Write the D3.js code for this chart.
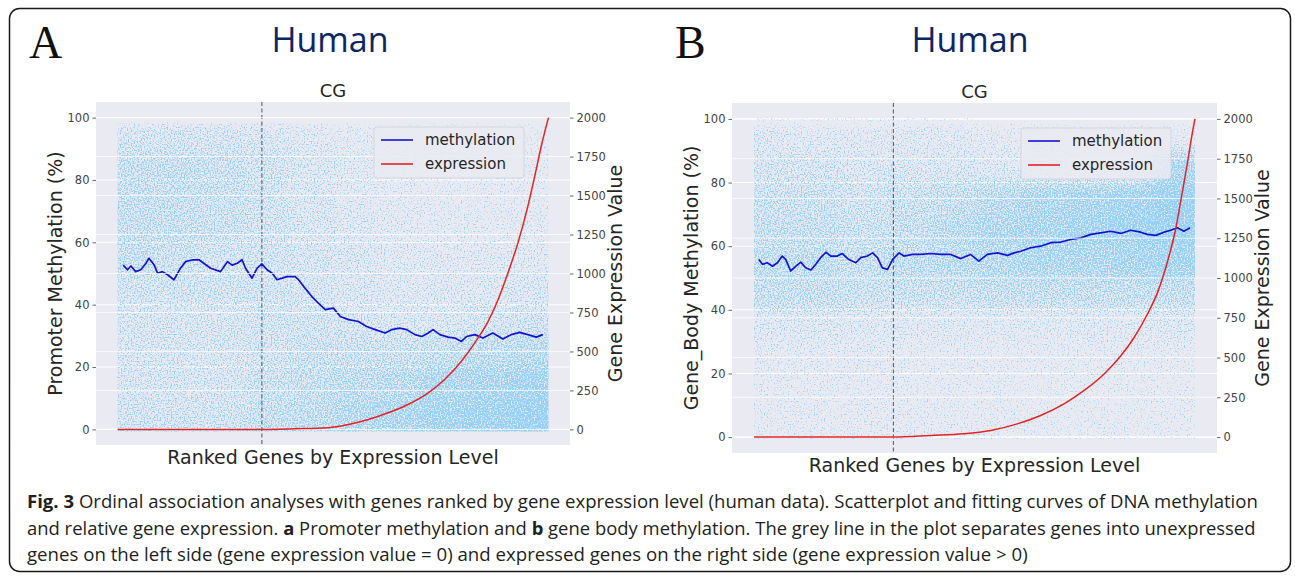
<!DOCTYPE html>
<html>
<head>
<meta charset="utf-8">
<script src="https://cdnjs.cloudflare.com/ajax/libs/d3/7.8.5/d3.min.js"></script>
<style>
  html, body { margin: 0; padding: 0; background: #fff; }
  svg { display: block; }
</style>
</head>
<body>
<svg id="fig" width="1295" height="576"></svg>
<script>
'use strict'

// ranks are given in percent of the ranked gene list (0 = lowest expression)
const methTicks = [0, 20, 40, 60, 80, 100]
const exprTicks = [0, 250, 500, 750, 1000, 1250, 1500, 1750, 2000]

// panel A : promoter methylation
const methRankA = [1.3, 2.3, 3.1, 4.2, 5.4, 6.6, 7.3, 8.5, 9.3, 10.4, 11.6, 13.1, 14.6, 15.8, 17.4, 18.9, 20.0, 21.6, 23.9, 25.5, 26.6, 27.8, 28.9, 29.7, 31.2, 32.4, 33.5, 34.7, 35.9, 37.0, 38.2, 39.3, 41.2, 42.0, 43.2, 45.1, 46.6, 48.2, 50.1, 51.7, 53.6, 55.9, 57.8, 59.8, 62.1, 63.6, 65.5, 67.1, 69.0, 70.6, 72.1, 73.2, 74.8, 76.7, 78.3, 79.8, 81.0, 82.9, 84.8, 87.1, 89.4, 91.4, 93.3, 95.2, 97.2, 98.7]
const methValA = [52.7, 51.2, 52.4, 50.6, 51.2, 53.3, 54.9, 52.7, 50.1, 50.6, 49.6, 48.0, 51.7, 53.8, 54.4, 54.4, 53.3, 51.7, 50.6, 53.8, 52.7, 53.3, 54.4, 51.7, 48.5, 51.7, 53.1, 51.2, 50.1, 48.0, 48.5, 49.0, 49.0, 48.0, 45.8, 42.6, 40.5, 38.4, 38.9, 36.2, 35.2, 34.6, 33.0, 32.0, 30.9, 32.0, 32.5, 32.0, 30.4, 29.8, 30.9, 32.0, 30.4, 29.6, 29.3, 28.2, 29.8, 30.4, 29.3, 30.9, 29.0, 30.4, 31.1, 30.4, 29.6, 30.4]
const exprRankA = [0, 33.5, 41.2, 49.0, 53.6, 58.2, 62.8, 67.4, 72.1, 75.9, 79.8, 82.9, 86.0, 88.3, 90.6, 92.9, 95.2, 96.8, 98.3, 100]
const exprValA = [0, 0, 4, 11, 32, 64, 107, 160, 235, 320, 437, 555, 693, 832, 1003, 1195, 1429, 1621, 1813, 2000]
const separatorA = 33.5

// panel B : gene body methylation
const methRankB = [1.1, 1.9, 3.0, 4.2, 5.3, 6.4, 7.2, 8.3, 9.5, 10.6, 11.7, 12.9, 14.0, 15.1, 16.3, 17.4, 18.9, 20.0, 21.5, 23.1, 24.2, 25.7, 26.9, 28.0, 29.1, 30.3, 31.4, 32.9, 34.0, 35.9, 37.8, 40.1, 42.3, 44.6, 46.9, 49.1, 51.0, 52.9, 55.2, 57.5, 59.0, 60.5, 62.7, 65.0, 67.3, 69.6, 71.8, 74.1, 76.4, 78.6, 80.9, 83.2, 85.4, 87.7, 89.2, 91.1, 93.0, 94.5, 96.0, 97.5, 98.9]
const methValB = [55.8, 54.3, 54.8, 53.7, 54.8, 56.9, 55.8, 52.2, 53.7, 55.0, 53.2, 52.5, 54.3, 56.4, 58.1, 56.9, 56.9, 57.7, 55.8, 54.8, 56.4, 56.9, 57.9, 56.4, 53.2, 52.7, 55.8, 57.9, 56.9, 57.4, 57.4, 57.7, 57.4, 57.4, 56.1, 57.4, 55.3, 57.4, 57.9, 57.1, 57.9, 58.4, 59.5, 60.0, 61.1, 61.3, 62.1, 62.6, 63.7, 64.2, 64.7, 64.0, 65.0, 64.4, 63.7, 63.4, 64.4, 65.0, 65.8, 64.7, 65.8]
const exprRankB = [0, 31.6, 40.1, 47.6, 53.7, 59.7, 65.0, 70.3, 74.8, 79.4, 83.2, 86.2, 89.2, 91.5, 93.7, 95.6, 97.1, 98.3, 99.4, 100]
const exprValB = [0, 0, 10, 21, 42, 83, 136, 209, 292, 397, 511, 626, 772, 908, 1096, 1305, 1535, 1723, 1911, 2000]
const separatorB = 31.6

// scatter density: rows are methylation bands 0-10 ... 90-100,
// columns are rank deciles 0-10 ... 90-100 (relative density, 1 = densest)
const cloudA = [
  [0.50, 0.50, 0.50, 0.60, 0.65, 0.75, 0.80, 0.90, 0.95, 1.00],
  [0.45, 0.45, 0.45, 0.55, 0.60, 0.65, 0.70, 0.80, 0.85, 0.90],
  [0.45, 0.45, 0.45, 0.50, 0.55, 0.55, 0.55, 0.60, 0.65, 0.70],
  [0.45, 0.45, 0.45, 0.50, 0.50, 0.45, 0.40, 0.40, 0.45, 0.50],
  [0.50, 0.50, 0.50, 0.50, 0.45, 0.40, 0.35, 0.35, 0.35, 0.40],
  [0.60, 0.55, 0.50, 0.50, 0.45, 0.40, 0.30, 0.30, 0.30, 0.30],
  [0.60, 0.60, 0.55, 0.50, 0.40, 0.35, 0.30, 0.25, 0.25, 0.25],
  [0.60, 0.60, 0.55, 0.50, 0.40, 0.30, 0.25, 0.20, 0.20, 0.20],
  [0.60, 0.60, 0.55, 0.50, 0.40, 0.30, 0.25, 0.20, 0.20, 0.18],
  [0.45, 0.45, 0.45, 0.40, 0.30, 0.25, 0.20, 0.15, 0.15, 0.12]
]
const cloudB = [
  [0.20, 0.20, 0.20, 0.20, 0.20, 0.20, 0.15, 0.15, 0.15, 0.15],
  [0.20, 0.20, 0.20, 0.20, 0.20, 0.20, 0.15, 0.15, 0.15, 0.15],
  [0.25, 0.25, 0.25, 0.20, 0.20, 0.20, 0.20, 0.20, 0.20, 0.20],
  [0.35, 0.35, 0.35, 0.30, 0.30, 0.30, 0.30, 0.30, 0.30, 0.35],
  [0.60, 0.60, 0.55, 0.55, 0.55, 0.60, 0.60, 0.60, 0.60, 0.60],
  [0.65, 0.65, 0.60, 0.65, 0.70, 0.75, 0.80, 0.80, 0.85, 0.90],
  [0.60, 0.60, 0.55, 0.60, 0.70, 0.80, 0.85, 0.90, 0.95, 1.00],
  [0.55, 0.55, 0.50, 0.55, 0.60, 0.70, 0.80, 0.85, 0.90, 1.00],
  [0.45, 0.45, 0.40, 0.40, 0.40, 0.35, 0.30, 0.30, 0.30, 0.80],
  [0.35, 0.30, 0.30, 0.30, 0.30, 0.25, 0.20, 0.20, 0.20, 0.20]
]
// genes sitting exactly at 100 % (a thin row on the top gridline of B)
const ceilingB = [0.6, 0.6, 0.6, 0.6, 0.45, 0, 0, 0, 0, 0]

const captionLines = [
  [['Fig. 3', true], [' Ordinal association analyses with genes ranked by gene expression level (human data). Scatterplot and fitting curves of DNA methylation', false]],
  [['and relative gene expression. ', false], ['a', true], [' Promoter methylation and ', false], ['b', true], [' gene body methylation. The grey line in the plot separates genes into unexpressed', false]],
  [['genes on the left side (gene expression value = 0) and expressed genes on the right side (gene expression value > 0)', false]]
]

const MPL_FONT = '"DejaVu Sans", sans-serif'
const svg = d3.select('#fig')
const defs = svg.append('defs')

/**
 * Builds a filter turning a smooth density field into light blue speckles.
 */
function makeSpeckle (id, blur, seed) {
  const f = defs.append('filter').attr('id', id)
    .attr('x', '-2%').attr('y', '-2%').attr('width', '104%').attr('height', '104%')
    .attr('color-interpolation-filters', 'sRGB')
  f.append('feGaussianBlur').attr('in', 'SourceGraphic').attr('stdDeviation', blur).attr('result', 'soft')
  f.append('feTurbulence').attr('type', 'fractalNoise').attr('baseFrequency', 0.7)
    .attr('numOctaves', 1).attr('seed', seed).attr('result', 'noise')
  f.append('feColorMatrix').attr('in', 'noise').attr('type', 'matrix')
    .attr('values', '0 0 0 0 0  0 0 0 0 0  0 0 0 0 0  1 0 0 0 0').attr('result', 'grain')
  f.append('feComposite').attr('in', 'soft').attr('in2', 'grain').attr('operator', 'arithmetic')
    .attr('k1', 0).attr('k2', 1).attr('k3', 1).attr('k4', -1).attr('result', 'mix')
  f.append('feColorMatrix').attr('in', 'mix').attr('type', 'matrix')
    .attr('values', '0 0 0 0 0.53  0 0 0 0 0.80  0 0 0 0 0.97  0 0 0 5 0')
}

makeSpeckle('speckle-soft', 7, 3)
makeSpeckle('speckle-sharp', 0.8, 5)

// the whole figure sits in a rounded frame
svg.append('rect')
  .attr('x', 9.5).attr('y', 8.5).attr('width', 1281).attr('height', 563)
  .attr('rx', 10).attr('fill', '#fff').attr('stroke', '#1a1a1a').attr('stroke-width', 1.5)

function styleAxis (ax) {
  ax.select('.domain').remove()
  ax.selectAll('.tick line').attr('stroke', '#555').attr('stroke-width', 0.9)
  ax.selectAll('.tick text').attr('fill', '#444')
    .style('font-family', MPL_FONT).style('font-size', '11.5px')
}

/**
 * Draws one panel: scatter cloud, both axes, the two curves and the legend.
 */
function drawPanel (cfg, d) {
  const { x0, x1, y0, y1 } = cfg.box
  const x = d3.scaleLinear().domain([-5, 105]).range([x0, x1])
  const yL = d3.scaleLinear().domain([-5, 105]).range([y1, y0])
  const yR = d3.scaleLinear().domain([-100, 2100]).range([y1, y0])
  const g = svg.append('g').attr('class', 'panel-' + cfg.id)

  g.append('text').attr('x', cfg.letterX).attr('y', 58)
    .style('font-family', '"Liberation Serif", "DejaVu Serif", serif').style('font-size', '46px')
    .attr('fill', '#111').text(cfg.letter)
  g.append('text').attr('x', cfg.humanX).attr('y', 52).attr('text-anchor', 'middle')
    .style('font-family', '"Open Sans", sans-serif').style('font-size', '34px')
    .attr('fill', '#0e2565').text('Human')
  g.append('text').attr('x', (x0 + x1) / 2).attr('y', y0 - 5).attr('text-anchor', 'middle')
    .style('font-family', MPL_FONT).style('font-size', '18px').attr('fill', '#262626').text('CG')

  g.append('rect').attr('x', x0).attr('y', y0).attr('width', x1 - x0).attr('height', y1 - y0)
    .attr('fill', '#eaeaf2')

  g.append('g').selectAll('line').data(methTicks).join('line')
    .attr('x1', x0).attr('x2', x1).attr('y1', v => yL(v)).attr('y2', v => yL(v))
    .attr('stroke', '#fff').attr('stroke-width', 1.1)

  // scatter cloud, drawn from the density table
  const clipId = 'clip-' + cfg.id
  defs.append('clipPath').attr('id', clipId).append('rect')
    .attr('x', x(0)).attr('width', x(100) - x(0))
    .attr('y', yL(cfg.cloudTop)).attr('height', yL(-0.7) - yL(cfg.cloudTop))
  const cells = []
  d.cloud.forEach((row, r) => row.forEach((v, c) => {
    cells.push({
      r0: c === 0 ? -10 : c * 10,
      r1: c === row.length - 1 ? 110 : (c + 1) * 10,
      m0: r === 0 ? -10 : r * 10,
      m1: (r + 1) * 10,
      v
    })
  }))
  const cloud = g.append('g').attr('clip-path', 'url(#' + clipId + ')').attr('opacity', 0.88)
  cloud.append('g').attr('filter', 'url(#speckle-soft)')
    .selectAll('rect').data(cells).join('rect')
    .attr('x', c => x(c.r0)).attr('width', c => x(c.r1) - x(c.r0))
    .attr('y', c => yL(c.m1)).attr('height', c => yL(c.m0) - yL(c.m1))
    .attr('fill', '#000').attr('fill-opacity', c => 0.37 + 0.33 * c.v)
  if (d.ceiling) {
    cloud.append('g').attr('filter', 'url(#speckle-sharp)')
      .selectAll('rect').data(d.ceiling).join('rect')
      .attr('x', (v, c) => x(c * 10)).attr('width', x(10) - x(0))
      .attr('y', yL(100.5)).attr('height', yL(99.3) - yL(100.5))
      .attr('fill', '#000').attr('fill-opacity', v => v > 0 ? 0.4 + 0.3 * v : 0)
  }

  // separator between unexpressed and expressed genes
  g.append('line').attr('x1', x(d.separator)).attr('x2', x(d.separator))
    .attr('y1', y0).attr('y2', y1)
    .attr('stroke', '#555').attr('stroke-width', 1).attr('stroke-dasharray', '4,2.5')

  const methLine = d3.line().x(p => x(p[0])).y(p => yL(p[1]))
  g.append('path').datum(d3.zip(d.methRank, d.methVal))
    .attr('d', methLine).attr('fill', 'none')
    .attr('stroke', '#1414cf').attr('stroke-width', 1.7).attr('stroke-linejoin', 'round')

  // twin axis grid sits above the scatter
  g.append('g').selectAll('line').data(exprTicks).join('line')
    .attr('x1', x0).attr('x2', x1).attr('y1', v => yR(v)).attr('y2', v => yR(v))
    .attr('stroke', '#fff').attr('stroke-opacity', 0.75).attr('stroke-width', 1)

  const exprLine = d3.line().curve(d3.curveMonotoneX).x(p => x(p[0])).y(p => yR(p[1]))
  g.append('path').datum(d3.zip(d.exprRank, d.exprVal))
    .attr('d', exprLine).attr('fill', 'none')
    .attr('stroke', '#e32424').attr('stroke-width', 1.5)

  // axes
  const axL = g.append('g').attr('transform', 'translate(' + x0 + ',0)')
    .call(d3.axisLeft(yL).tickValues(methTicks).tickFormat(d3.format('d')).tickSize(3.5).tickPadding(3))
  styleAxis(axL)
  const axR = g.append('g').attr('transform', 'translate(' + x1 + ',0)')
    .call(d3.axisRight(yR).tickValues(exprTicks).tickFormat(d3.format('d')).tickSize(3.5).tickPadding(3))
  styleAxis(axR)

  const midY = (y0 + y1) / 2
  g.append('text').attr('transform', 'translate(' + cfg.leftLabelX + ',' + midY + ') rotate(-90)')
    .attr('text-anchor', 'middle').attr('dominant-baseline', 'central')
    .style('font-family', MPL_FONT).style('font-size', '19px').attr('fill', '#262626')
    .text(cfg.leftLabel)
  g.append('text').attr('transform', 'translate(' + (x1 + 45) + ',' + midY + ') rotate(-90)')
    .attr('text-anchor', 'middle').attr('dominant-baseline', 'central')
    .style('font-family', MPL_FONT).style('font-size', '19px').attr('fill', '#262626')
    .text('Gene Expression Value')
  g.append('text').attr('x', (x0 + x1) / 2).attr('y', y1 + 19).attr('text-anchor', 'middle')
    .style('font-family', MPL_FONT).style('font-size', '19px').attr('fill', '#262626')
    .text('Ranked Genes by Expression Level')

  // legend
  const lx = x1 - 46 - 150
  const ly = y0 + 25
  const leg = g.append('g').attr('transform', 'translate(' + lx + ',' + ly + ')')
  leg.append('rect').attr('width', 150).attr('height', 51).attr('rx', 3)
    .attr('fill', '#eaeaf2').attr('fill-opacity', 0.85).attr('stroke', '#d2d2da').attr('stroke-width', 0.8)
  const items = [['methylation', '#1414cf'], ['expression', '#e32424']]
  items.forEach((it, i) => {
    const yy = 13 + i * 24
    leg.append('line').attr('x1', 7).attr('x2', 39).attr('y1', yy).attr('y2', yy)
      .attr('stroke', it[1]).attr('stroke-width', 1.6)
    leg.append('text').attr('x', 51).attr('y', yy).attr('dominant-baseline', 'central')
      .style('font-family', MPL_FONT).style('font-size', '15px').attr('fill', '#262626')
      .text(it[0])
  })
}

drawPanel(
  { id: 'a', box: { x0: 96, x1: 570, y0: 102, y1: 445 }, letter: 'A', letterX: 29, humanX: 330,
    leftLabel: 'Promoter Methylation (%)', leftLabelX: 55, cloudTop: 98.5 },
  { methRank: methRankA, methVal: methValA, exprRank: exprRankA, exprVal: exprValA,
    separator: separatorA, cloud: cloudA }
)
drawPanel(
  { id: 'b', box: { x0: 732, x1: 1217, y0: 103, y1: 453 }, letter: 'B', letterX: 675, humanX: 970,
    leftLabel: 'Gene_Body Methylation (%)', leftLabelX: 691, cloudTop: 100.8 },
  { methRank: methRankB, methVal: methValB, exprRank: exprRankB, exprVal: exprValB,
    separator: separatorB, cloud: cloudB, ceiling: ceilingB }
)

// caption, squeezed to the width of the original narrow typeface
const capWidths = [1232, 1229, 1001]
const capBase = [508, 535, 561]
captionLines.forEach((parts, i) => {
  const t = svg.append('text').attr('y', capBase[i])
    .style('font-family', '"Open Sans", sans-serif').style('font-size', '17.5px').attr('fill', '#231f20')
  parts.forEach(p => {
    t.append('tspan').attr('font-weight', p[1] ? 700 : 400).text(p[0])
  })
  const w = t.node().getComputedTextLength()
  t.attr('transform', 'translate(27,0) scale(' + (capWidths[i] / w) + ',1)')
})
</script>
</body>
</html>
